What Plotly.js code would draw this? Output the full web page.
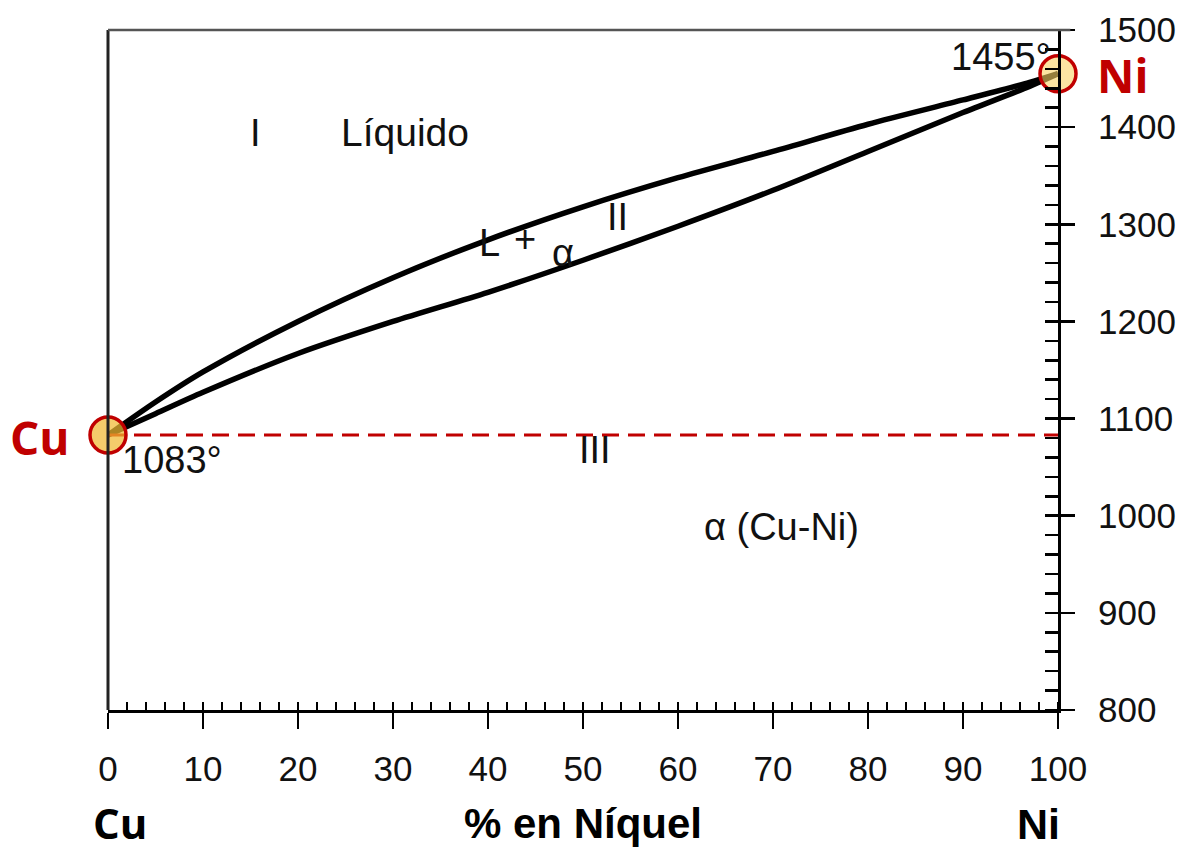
<!DOCTYPE html>
<html>
<head>
<meta charset="utf-8">
<script src="https://cdn.plot.ly/plotly-3.0.1.min.js"></script>
<style>html,body{margin:0;padding:0;background:#fff;}#chart{width:1188px;height:853px;}</style>
</head>
<body>
<div id="chart"></div>
<script>
// % Ni composition points
const liquidusX = [0, 5, 10, 20, 30, 40, 50, 60, 70, 80, 90, 97, 100];
const liquidusT = [1083, 1117, 1148, 1200, 1245, 1284, 1318, 1348, 1375, 1403, 1428, 1446, 1455];
const solidusX = [0, 5, 10, 20, 30, 40, 50, 60, 70, 80, 90, 97, 100];
const solidusT = [1083, 1105, 1127, 1167, 1200, 1230, 1263, 1298, 1335, 1375, 1415, 1442, 1455];
const eutLineX = [0, 100];
const eutLineT = [1083, 1083];
const meltX = [0, 100];
const meltT = [1083, 1455];
const meltNames = ['Cu', 'Ni'];
const xTicks = [0, 10, 20, 30, 40, 50, 60, 70, 80, 90, 100];
const yTicks = [800, 900, 1000, 1100, 1200, 1300, 1400, 1500];

const RED = '#c00000';
const txtFont = 'Liberation Sans, Arial, sans-serif';
const boldFont = 'Open Sans, Noto Sans, sans-serif';

const traces = [
  {x: liquidusX, y: liquidusT, mode: 'lines', line: {color: '#000', width: 5.5, shape: 'spline', smoothing: 0.8}, hoverinfo: 'skip', name: 'Liquidus'},
  {x: solidusX, y: solidusT, mode: 'lines', line: {color: '#000', width: 5.5, shape: 'spline', smoothing: 0.8}, hoverinfo: 'skip', name: 'Solidus'},
  {x: eutLineX, y: eutLineT, mode: 'lines', line: {color: RED, width: 3, dash: '17px,9px'}, hoverinfo: 'skip', name: '1083'},
  {x: meltX, y: meltT, mode: 'markers', cliponaxis: false, text: meltNames,
   marker: {size: 36, color: ['rgba(240,185,50,0.72)', 'rgba(250,210,100,0.6)'], line: {color: RED, width: 3.5}}, name: 'Fusión'}
];

const ann = (x, y, text, size, opts) => Object.assign({x: x, y: y, xref: 'x', yref: 'y', text: text, showarrow: false,
  font: {family: txtFont, size: size, color: '#111'}}, opts || {});
const pann = (x, y, text, font, opts) => Object.assign({x: x, y: y, xref: 'paper', yref: 'paper', text: text, showarrow: false,
  xanchor: 'center', yanchor: 'middle', font: font}, opts || {});

const layout = {
  width: 1188, height: 853,
  margin: {l: 108, r: 130, t: 30, b: 143},
  paper_bgcolor: '#fff', plot_bgcolor: '#fff',
  showlegend: false,
  font: {family: txtFont, color: '#111'},
  xaxis: {
    range: [0, 100], fixedrange: true, showgrid: false, zeroline: false,
    tickvals: xTicks, ticktext: xTicks.map(String),
    ticks: 'outside', ticklen: 16, tickwidth: 2.5, tickcolor: '#000',
    minor: {ticks: 'inside', dtick: 2, tick0: 0, ticklen: 8, tickwidth: 2.5, tickcolor: '#000', showgrid: false},
    showline: true, linecolor: '#000', linewidth: 3,
    tickfont: {family: txtFont, size: 35, color: '#111'}, ticklabelstandoff: 10,
    title: {text: '<b>% en Níquel</b>', font: {family: txtFont, size: 42, color: '#000'}, standoff: 22}
  },
  yaxis: {
    range: [800, 1500], fixedrange: true, side: 'right', showgrid: false, zeroline: false,
    tickvals: yTicks, ticktext: yTicks.map(String),
    ticks: 'outside', ticklen: 14, tickwidth: 2.5, tickcolor: '#000',
    minor: {ticks: 'inside', dtick: 20, tick0: 800, ticklen: 13, tickwidth: 2.5, tickcolor: '#000', showgrid: false},
    showline: true, linecolor: '#000', linewidth: 3,
    tickfont: {family: txtFont, size: 35, color: '#111'}, ticklabelstandoff: 16
  },
  shapes: [
    {type: 'line', xref: 'paper', yref: 'paper', x0: 0, x1: 0, y0: 0, y1: 1, line: {color: '#222', width: 3}},
    {type: 'line', xref: 'paper', yref: 'paper', x0: 0, x1: 1.013, y0: 1, y1: 1, line: {color: '#555', width: 2.5}}
  ],
  annotations: [
    ann(15.5, 1394, 'I', 38),
    ann(31.3, 1394, 'Líquido', 39),
    ann(40.2, 1281, 'L', 38),
    ann(43.9, 1285, '+', 38),
    ann(47.9, 1270, 'α', 38),
    ann(53.6, 1307, 'II', 38),
    ann(51.3, 1068, 'III', 38),
    ann(70.9, 988, 'α (Cu-Ni)', 38),
    ann(99.5, 1472, '1455°', 38, {xanchor: 'right'}),
    ann(1.3, 1057, '1083°', 38, {xanchor: 'left'}),
    pann(-0.0716, 0.4015, '<b>Cu</b>', {family: boldFont, size: 46, color: RED}),
    pann(1.039, 0.934, '<b>Ni</b>', {family: boldFont, size: 46, color: RED}, {xanchor: 'left'}),
    pann(0.0126, -0.166, '<b>Cu</b>', {family: boldFont, size: 42, color: '#000'}),
    pann(0.979, -0.168, '<b>Ni</b>', {family: txtFont, size: 43, color: '#000'})
  ]
};

Plotly.newPlot('chart', traces, layout, {displayModeBar: false, staticPlot: true});
</script>
</body>
</html>
